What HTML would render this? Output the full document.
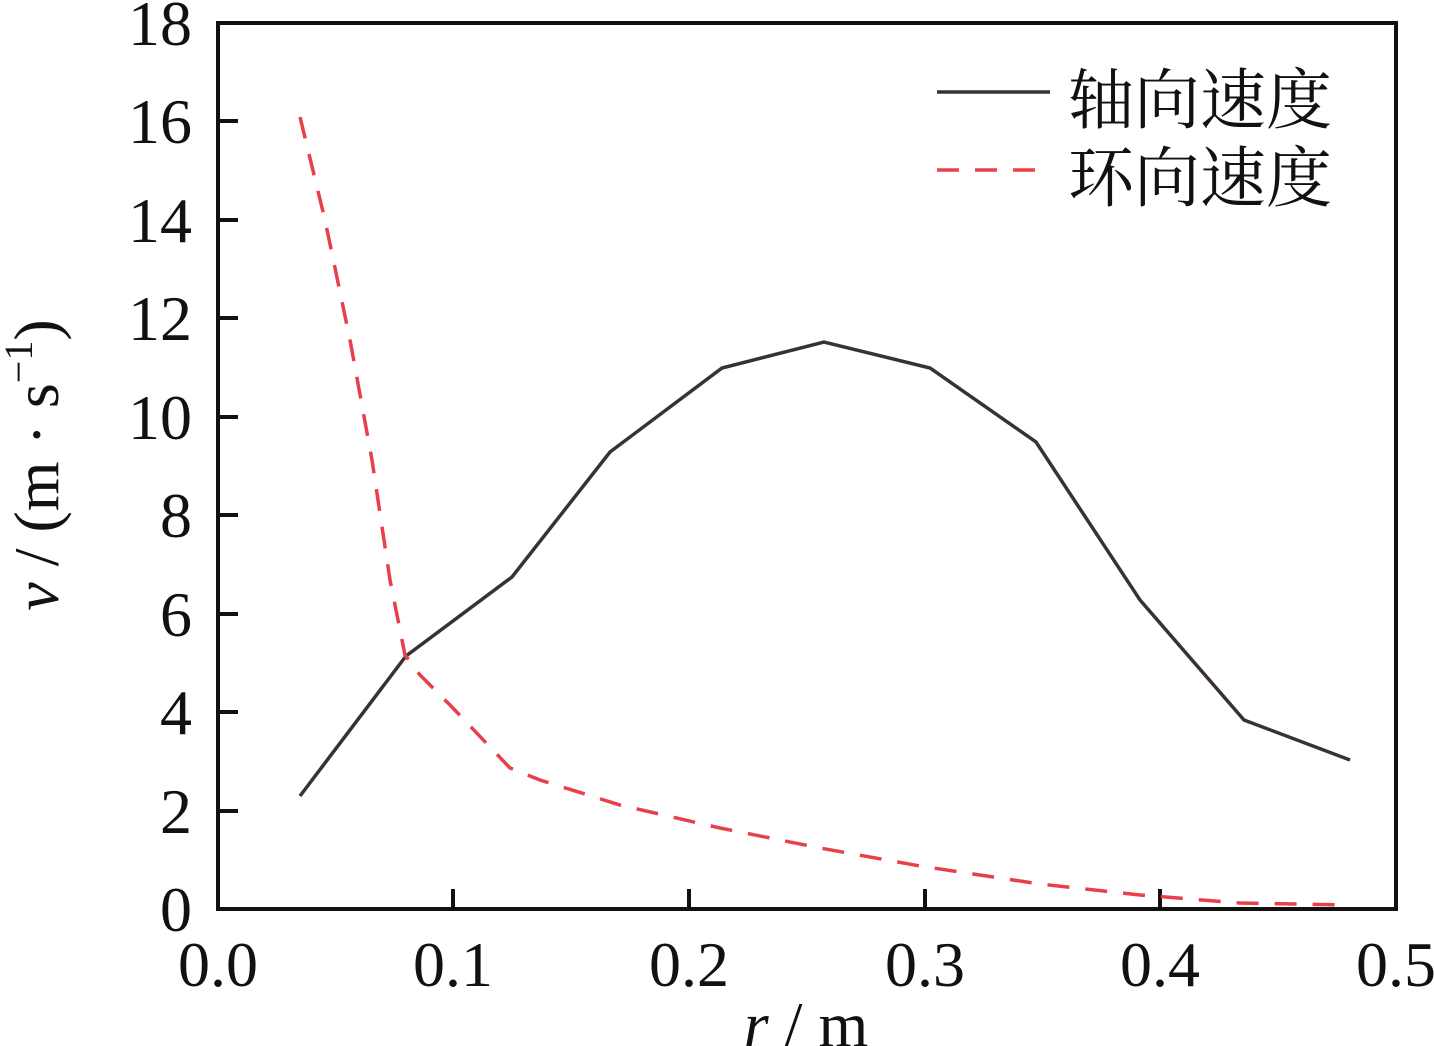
<!DOCTYPE html><html><head><style>body{margin:0;background:#fff}</style></head><body>
<svg width="1434" height="1046" xmlns="http://www.w3.org/2000/svg" style="display:block">
<g font-family="Liberation Serif, serif" font-size="64" fill="#111">
<rect x="218" y="23" width="1178" height="886" fill="none" stroke="#111" stroke-width="4"/>
<g stroke="#111" stroke-width="4">
<line x1="453" y1="909" x2="453" y2="889"/><line x1="689" y1="909" x2="689" y2="889"/><line x1="925" y1="909" x2="925" y2="889"/><line x1="1160" y1="909" x2="1160" y2="889"/>
<line x1="218" y1="811" x2="238" y2="811"/><line x1="218" y1="712" x2="238" y2="712"/><line x1="218" y1="614" x2="238" y2="614"/><line x1="218" y1="515" x2="238" y2="515"/><line x1="218" y1="417" x2="238" y2="417"/><line x1="218" y1="318" x2="238" y2="318"/><line x1="218" y1="220" x2="238" y2="220"/><line x1="218" y1="121" x2="238" y2="121"/>
</g>
<g text-anchor="end">
<text x="192" y="931">0</text><text x="192" y="833">2</text><text x="192" y="734">4</text><text x="192" y="636">6</text><text x="192" y="537">8</text><text x="192" y="439">10</text><text x="192" y="340">12</text><text x="192" y="242">14</text><text x="192" y="143">16</text><text x="192" y="45">18</text>
</g>
<g text-anchor="middle">
<text x="218" y="986">0.0</text><text x="453" y="986">0.1</text><text x="689" y="986">0.2</text><text x="925" y="986">0.3</text><text x="1160" y="986">0.4</text><text x="1396" y="986">0.5</text>
<text x="806" y="1046"><tspan font-style="italic">r</tspan> / m</text>
</g>
<text transform="translate(58,465) rotate(-90)" text-anchor="middle"><tspan font-style="italic">v</tspan> / (m · s<tspan font-size="40" dy="-26">−1</tspan><tspan dy="26">)</tspan></text>
<polyline fill="none" stroke="#3a3232" stroke-width="3.5" points="300,796 406,656 512,577 610,452 722,368 824,342 930,368 1036,442 1140,600 1244,720 1350,760"/>
<polyline fill="none" stroke="#e8404a" stroke-width="3.5" stroke-dasharray="22,16" points="300,117 325,220 350,340 372,460 390,580 405,655 420,675 450,705 510,768 540,780 620,805 720,828 820,848 920,866 1040,884 1140,895 1240,903 1350,905"/>
<line x1="937" y1="92" x2="1050" y2="92" stroke="#3a3232" stroke-width="3.5"/>
<line x1="937" y1="170" x2="1050" y2="170" stroke="#e8404a" stroke-width="3.5" stroke-dasharray="22,16"/>
<g font-family="Liberation Serif, Noto Serif CJK SC, Noto Sans CJK SC, serif" font-size="66">
<text x="1068" y="123">轴向速度</text><text x="1068" y="201">环向速度</text>
</g>
</g>
</svg>
</body></html>
